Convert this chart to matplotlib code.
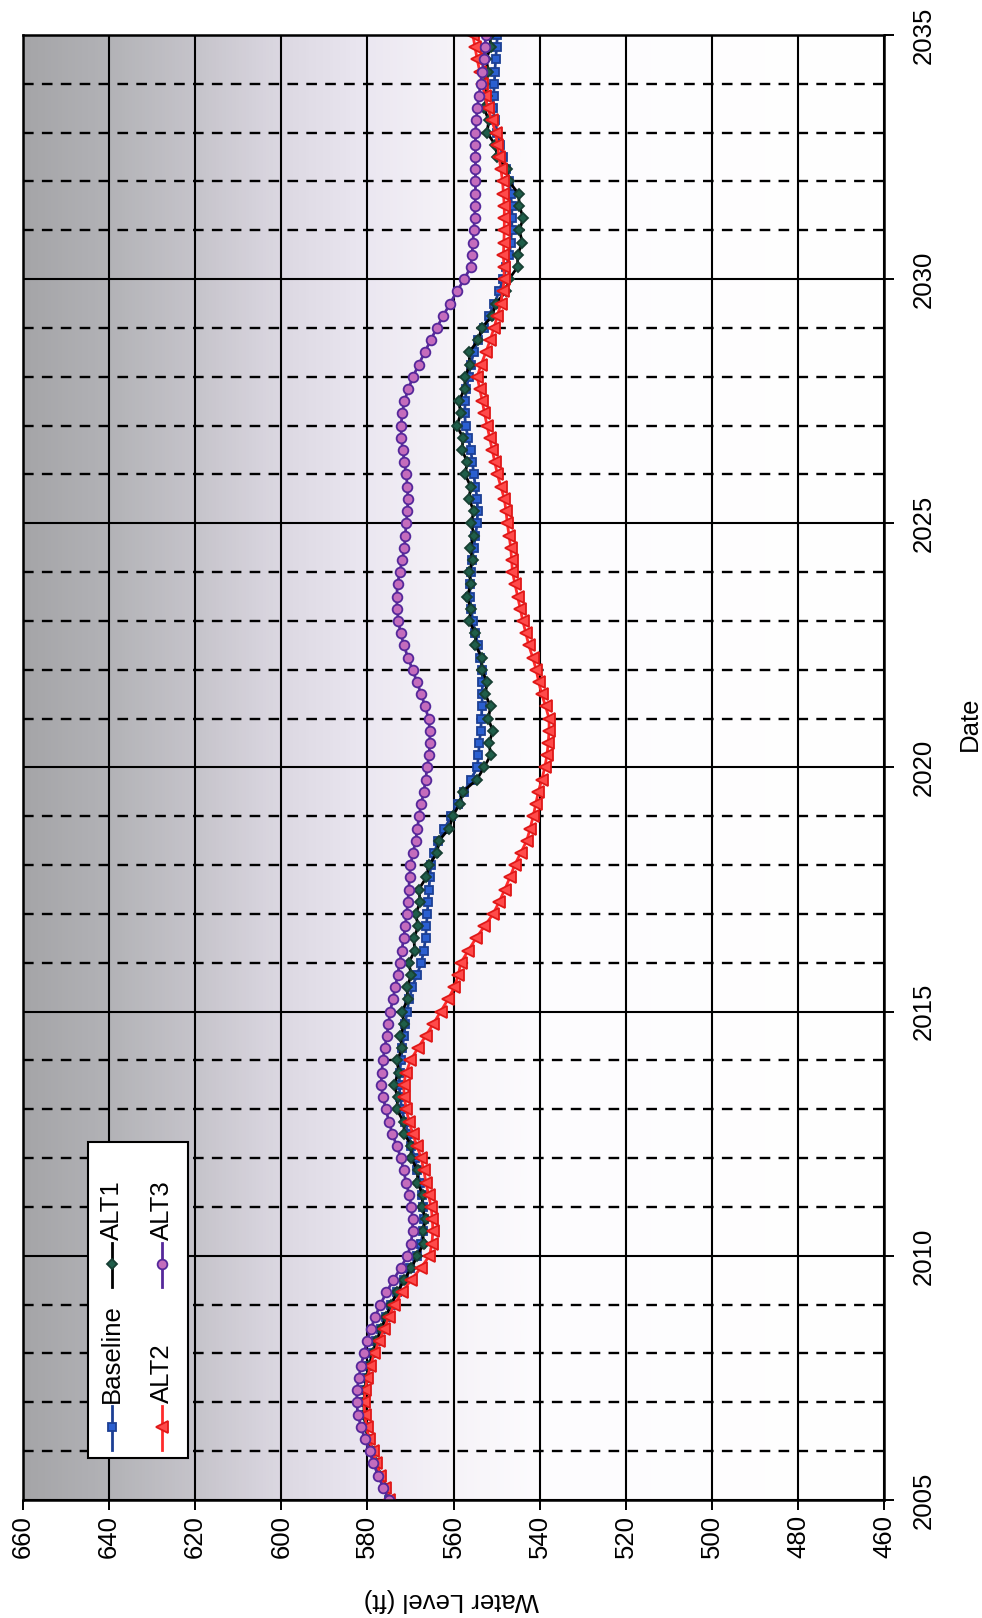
import numpy as np
import matplotlib
matplotlib.use("Agg")
import matplotlib.pyplot as plt
from matplotlib.colors import LinearSegmentedColormap
from matplotlib.lines import Line2D
from matplotlib.patches import Rectangle

plt.rcParams["font.family"] = ["Liberation Sans", "DejaVu Sans"]

# quarterly model output, 2005.00 .. 2035.00
dates = np.arange(2005.0, 2035.01, 0.25)

baseline = [
    575.0, 576.0, 577.0, 578.0,  579.0, 579.8, 580.4, 580.7,
    580.8, 580.6, 580.2, 579.6,  578.8, 577.9, 576.8, 575.7,
    574.5, 573.1, 571.5, 570.0,  568.5, 567.6, 567.0, 566.9,
    567.0, 567.3, 567.8, 568.4,  569.0, 569.8, 570.5, 571.3,
    572.0, 572.4, 572.6, 572.5,  572.2, 571.9, 571.5, 571.2,
    570.8, 570.3, 569.6, 568.5,  567.5, 566.9, 566.5, 566.3,
    566.1, 565.9, 565.7, 565.5,  565.3, 564.5, 563.5, 562.1,
    560.5, 559.0, 557.5, 556.0,  554.5, 554.2, 554.0, 553.7,
    553.5, 553.4, 553.3, 553.3,  553.3, 553.8, 554.3, 554.9,
    555.5, 555.9, 556.2, 556.2,  556.0, 555.7, 555.3, 554.9,
    554.5, 554.4, 554.5, 554.9,  555.3, 555.6, 556.0, 556.6,
    557.2, 557.4, 557.3, 557.0,  556.5, 556.0, 555.3, 554.3,
    553.0, 551.8, 550.5, 549.4,  548.5, 547.7, 547.0, 546.7,
    546.5, 546.4, 546.5, 546.7,  547.0, 547.7, 548.5, 549.2,
    549.8, 550.4, 550.8, 550.7,  550.5, 550.4, 550.2, 550.0,
    549.8,
]

alt1 = [
    575.0, 576.0, 577.0, 578.0,  579.0, 579.8, 580.4, 580.7,
    580.8, 580.6, 580.2, 579.6,  578.8, 577.9, 576.8, 575.7,
    574.5, 573.1, 571.5, 569.8,  568.4, 566.9, 567.2, 566.4,
    567.4, 567.1, 568.4, 568.3,  569.9, 569.8, 571.4, 571.6,
    573.2, 572.9, 573.9, 572.7,  573.1, 571.9, 572.4, 571.4,
    572.0, 570.6, 570.8, 569.8,  570.4, 569.0, 569.2, 568.2,
    568.8, 567.7, 568.1, 566.3,  565.7, 563.8, 563.4, 561.0,
    560.2, 558.6, 557.9, 554.6,  552.9, 551.4, 551.7, 550.9,
    551.9, 551.4, 552.6, 552.2,  553.4, 553.4, 554.9, 554.9,
    556.4, 555.9, 556.9, 555.9,  556.4, 555.5, 556.2, 555.2,
    555.9, 555.3, 556.4, 556.0,  557.3, 556.8, 558.0, 557.8,
    559.2, 558.3, 558.8, 557.4,  557.3, 556.2, 556.4, 554.3,
    553.4, 551.0, 550.2, 547.8,  547.1, 545.1, 545.1, 544.0,
    544.7, 543.8, 544.7, 544.9,  547.1, 547.6, 549.8, 550.3,
    552.2, 551.8, 552.9, 552.2,  552.9, 551.9, 552.4, 551.4,
    551.5,
]

alt2 = [
    575.0, 576.0, 577.0, 577.9,  578.8, 579.6, 580.2, 580.6,
    580.8, 580.5, 580.0, 579.3,  578.4, 577.3, 576.1, 575.0,
    573.8, 572.0, 569.9, 567.6,  565.6, 565.0, 564.8, 564.9,
    565.2, 565.8, 566.4, 566.9,  567.5, 568.5, 569.5, 570.3,
    571.0, 571.4, 571.6, 571.0,  570.0, 568.3, 566.5, 564.7,
    563.0, 561.3, 559.8, 558.9,  558.3, 556.6, 554.8, 552.8,
    550.8, 549.4, 548.1, 546.9,  545.8, 544.4, 543.0, 542.2,
    541.5, 540.9, 540.3, 539.5,  538.8, 538.3, 538.0, 537.8,
    537.8, 538.6, 539.5, 540.2,  540.8, 541.6, 542.5, 543.2,
    543.9, 544.5, 545.1, 545.7,  546.3, 546.5, 546.7, 547.1,
    547.5, 547.8, 548.2, 549.0,  549.8, 550.4, 551.0, 551.6,
    552.2, 552.8, 553.3, 553.9,  554.5, 553.6, 552.5, 551.5,
    550.6, 549.8, 549.0, 548.6,  548.2, 548.3, 548.4, 548.3,
    548.2, 548.2, 548.2, 548.4,  548.6, 549.0, 549.4, 549.8,
    550.2, 551.1, 552.0, 552.7,  553.3, 553.9, 554.5, 555.0,
    555.5,
]

alt3 = [
    575.0, 576.3, 577.5, 578.6,  579.5, 580.6, 581.5, 582.2,
    582.5, 582.4, 582.0, 581.5,  580.8, 580.1, 579.2, 578.2,
    577.0, 575.6, 574.0, 572.3,  570.7, 569.9, 569.5, 569.5,
    569.8, 570.3, 571.0, 571.6,  572.2, 573.2, 574.2, 575.0,
    575.7, 576.4, 576.8, 576.7,  576.4, 576.0, 575.5, 575.1,
    574.7, 574.1, 573.5, 573.0,  572.5, 572.0, 571.6, 571.2,
    570.9, 570.6, 570.4, 570.2,  570.0, 569.4, 568.8, 568.4,
    568.0, 567.5, 566.9, 566.5,  566.1, 565.7, 565.5, 565.5,
    565.8, 566.6, 567.5, 568.5,  569.5, 570.6, 571.5, 572.3,
    572.8, 573.1, 573.2, 573.0,  572.5, 571.9, 571.4, 571.2,
    571.0, 570.7, 570.6, 570.7,  571.0, 571.4, 571.8, 572.1,
    572.2, 571.9, 571.4, 570.5,  569.4, 568.1, 566.7, 565.3,
    563.9, 562.4, 560.8, 559.2,  557.5, 556.0, 555.7, 555.5,
    555.3, 555.1, 555.0, 554.9,  554.9, 554.9, 554.9, 554.9,
    554.9, 554.7, 554.5, 554.1,  553.7, 553.3, 553.0, 552.7,
    552.5,
]

level_ticks = list(range(460, 661, 20))
year_ticks = list(range(2005, 2036, 5))

series = [
    ("Baseline", baseline, dict(color="#1c3f94", marker="s", ms=5.2,
                                mfc="#2b5fd0", mec="#1c3f94")),
    ("ALT1", alt1, dict(color="black", marker="D", ms=5.6,
                        mfc="#1f5e4a", mec="#173f33")),
    ("ALT2", alt2, dict(color="#ff2b2b", marker="<", ms=8.5,
                        mfc="#ff4a4a", mec="#e01818")),
    ("ALT3", alt3, dict(color="#55289a", marker="o", ms=7.0,
                        mfc="#c46cbc", mec="#55289a")),
]
FS = 18.5

fig = plt.figure(figsize=(9.82, 16.18), dpi=100)
ax = fig.add_axes([23 / 982, 118 / 1618, 861 / 982, 1465 / 1618])

# gray-to-white gradient across the plot area (dark at the high-level side)
grad = LinearSegmentedColormap.from_list("bg", [
    (0.00, "#a5a5a8"), (0.10, "#b3b3b7"), (0.20, "#c6c4cb"),
    (0.30, "#dcd8e2"), (0.40, "#ebe7f1"), (0.50, "#f6f3f8"),
    (0.60, "#fdfcfe"), (1.00, "#ffffff"),
])
ax.imshow(np.linspace(0, 1, 256)[None, :], cmap=grad, aspect="auto",
          extent=(660, 460, 2005, 2035), zorder=0, interpolation="bilinear")

for name, vals, st in series:
    ax.plot(vals, dates, lw=2.0, mew=1.3, zorder=3, **st)

ax.set_xlim(660, 460)
ax.set_ylim(2005, 2035)
ax.set_xticks(level_ticks)
ax.set_yticks(year_ticks)
ax.set_yticks(range(2005, 2036), minor=True)
ax.yaxis.tick_right()
ax.yaxis.set_label_position("right")

ax.grid(which="major", color="black", lw=1.5, ls="-", zorder=1)
ax.grid(which="minor", axis="y", color="black", lw=1.7,
        ls=(0, (4.5, 3.5)), zorder=1)
ax.set_axisbelow(False)
for sp in ax.spines.values():
    sp.set_linewidth(1.8)
    sp.set_zorder(4)

ax.tick_params(which="major", direction="out", length=7, width=1.4,
               labelsize=FS)
ax.tick_params(axis="x", pad=4)
ax.tick_params(axis="y", pad=13)
ax.tick_params(which="minor", length=0)
for lab in ax.get_xticklabels():
    lab.set_rotation(90)
for lab in ax.get_yticklabels():
    lab.set_rotation(90)
    lab.set_va("center")

ax.set_xlabel("Water Level (ft)", fontsize=FS, rotation=180, va="center")
ax.set_ylabel("Date", fontsize=FS, rotation=90, va="center")
ax.xaxis.set_label_coords(0.497, -0.068)
ax.yaxis.set_label_coords(1.100, 0.53)

# legend box, laid out sideways to follow the rotated page
ax.add_patch(Rectangle((0.0755, 0.0287), 0.1161, 0.2157, transform=ax.transAxes,
                       facecolor="white", edgecolor="black", lw=1.5, zorder=5))
legend_slots = [(0.103, 0.034), (0.103, 0.1454), (0.161, 0.034), (0.161, 0.1454)]
for (name, vals, st), (lx, ly) in zip(series, legend_slots):
    ax.add_line(Line2D([lx, lx], [ly, ly + 0.030], transform=ax.transAxes,
                       color=st["color"], lw=2.0, zorder=6))
    ax.add_line(Line2D([lx], [ly + 0.016], transform=ax.transAxes,
                       marker=st["marker"], ms=st["ms"], mfc=st["mfc"],
                       mec=st["mec"], mew=1.3, ls="none", zorder=7))
    ax.text(lx, ly + 0.032, name, transform=ax.transAxes, rotation=90,
            ha="center", va="bottom", fontsize=FS, zorder=7)

fig.savefig("out.png", dpi=100)
